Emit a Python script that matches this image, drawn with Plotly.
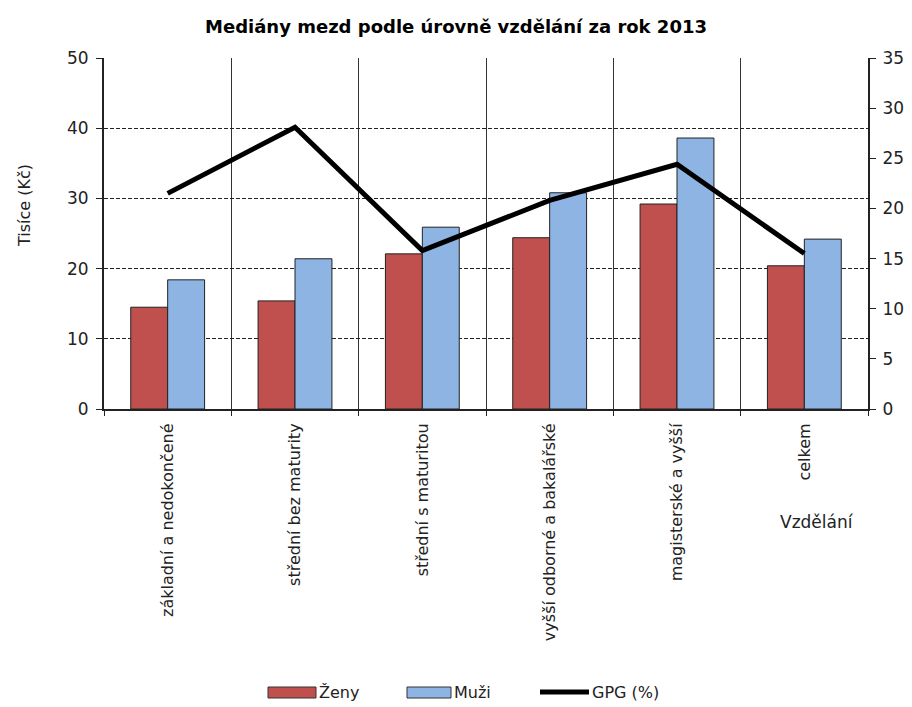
import plotly.graph_objects as go

categories = ["základní a nedokončené", "střední bez maturity", "střední s maturitou",
              "vyšší odborné a bakalářské", "magisterské a vyšší", "celkem"]
zeny = [14.5, 15.4, 22.1, 24.4, 29.2, 20.4]
muzi = [18.4, 21.4, 25.9, 30.8, 38.6, 24.2]
gpg = [21.5, 28.1, 15.8, 20.8, 24.4, 15.5]

RED = "#C0504D"
BLUE = "#8DB4E2"
FONT = "DejaVu Sans, Arial, sans-serif"

fig = go.Figure()
fig.add_trace(go.Bar(x=categories, y=zeny, name="Ženy", marker=dict(color=RED, line=dict(color="#222", width=1)), showlegend=False))
fig.add_trace(go.Bar(x=categories, y=muzi, name="Muži", marker=dict(color=BLUE, line=dict(color="#222", width=1)), showlegend=False))
fig.add_trace(go.Scatter(x=categories, y=gpg, name="GPG (%)", mode="lines", yaxis="y2",
                         line=dict(color="black", width=5), showlegend=False))

L, R, T, B = 104, 44, 58, 298
W, H = 912, 707
pw, ph = W - L - R, H - T - B

def px(x):
    return (x - L) / pw

def py(y):
    return (H - B - y) / ph

shapes = []
annotations = []
# manual legend
leg = [("Ženy", RED, 268, 316, "box"), ("Muži", BLUE, 407, 451, "box"), ("GPG (%)", "black", 540, 589, "line")]
for name, col, x0, x1, kind in leg:
    if kind == "box":
        shapes.append(dict(type="rect", xref="paper", yref="paper", x0=px(x0), x1=px(x1),
                           y0=py(698), y1=py(687), fillcolor=col, line=dict(color="#333", width=1)))
    else:
        shapes.append(dict(type="line", xref="paper", yref="paper", x0=px(x0), x1=px(x1),
                           y0=py(692), y1=py(692), line=dict(color=col, width=5)))
    annotations.append(dict(text=name, xref="paper", yref="paper", x=px(x1 + 1), y=py(692),
                            xanchor="left", yanchor="middle", showarrow=False,
                            font=dict(family=FONT, size=16, color="#222")))

annotations.append(dict(text="Vzdělání", xref="paper", yref="paper", x=px(817), y=py(522),
                        xanchor="center", yanchor="middle", showarrow=False,
                        font=dict(family=FONT, size=17, color="#222")))
annotations.append(dict(text="Tisíce (Kč)", xref="paper", yref="paper", x=px(24), y=py(206),
                        xanchor="center", yanchor="middle", showarrow=False, textangle=-90,
                        font=dict(family=FONT, size=16, color="#222")))

fig.update_layout(
    width=W, height=H,
    margin=dict(l=L, r=R, t=T, b=B, pad=0, autoexpand=False),
    paper_bgcolor="white", plot_bgcolor="white",
    barmode="group", bargap=0.42, bargroupgap=0,
    title=dict(text="<b>Mediány mezd podle úrovně vzdělání za rok 2013</b>", x=0.5, xanchor="center",
               y=1 - 27 / H, yanchor="middle", font=dict(family=FONT, size=18, color="black")),
    font=dict(family=FONT, size=16, color="#222"),
    xaxis=dict(type="category", tickson="boundaries", showgrid=True, gridcolor="#333", gridwidth=1,
               ticks="outside", ticklen=5, tickcolor="#222", showline=True, linecolor="#222", linewidth=2,
               automargin=False,
               tickangle=-90, tickfont=dict(family=FONT, size=16, color="#222"), ticklabelstandoff=6),
    yaxis=dict(range=[0, 50], dtick=10, showgrid=True, gridcolor="#222", griddash="4px,2px", gridwidth=1,
               ticks="outside", ticklen=6, tickcolor="#222", showline=True, linecolor="#222", linewidth=2,
               zeroline=False, ticklabelstandoff=4, automargin=False,
               tickfont=dict(family=FONT, size=17, color="#222")),
    yaxis2=dict(range=[0, 35], dtick=5, overlaying="y", side="right", showgrid=False,
                ticks="outside", ticklen=6, tickcolor="#222", showline=True, linecolor="#222", linewidth=2,
                zeroline=False, ticklabelstandoff=3, automargin=False,
                tickfont=dict(family=FONT, size=17, color="#222")),
    shapes=shapes, annotations=annotations,
)

fig.write_html("out.html")
